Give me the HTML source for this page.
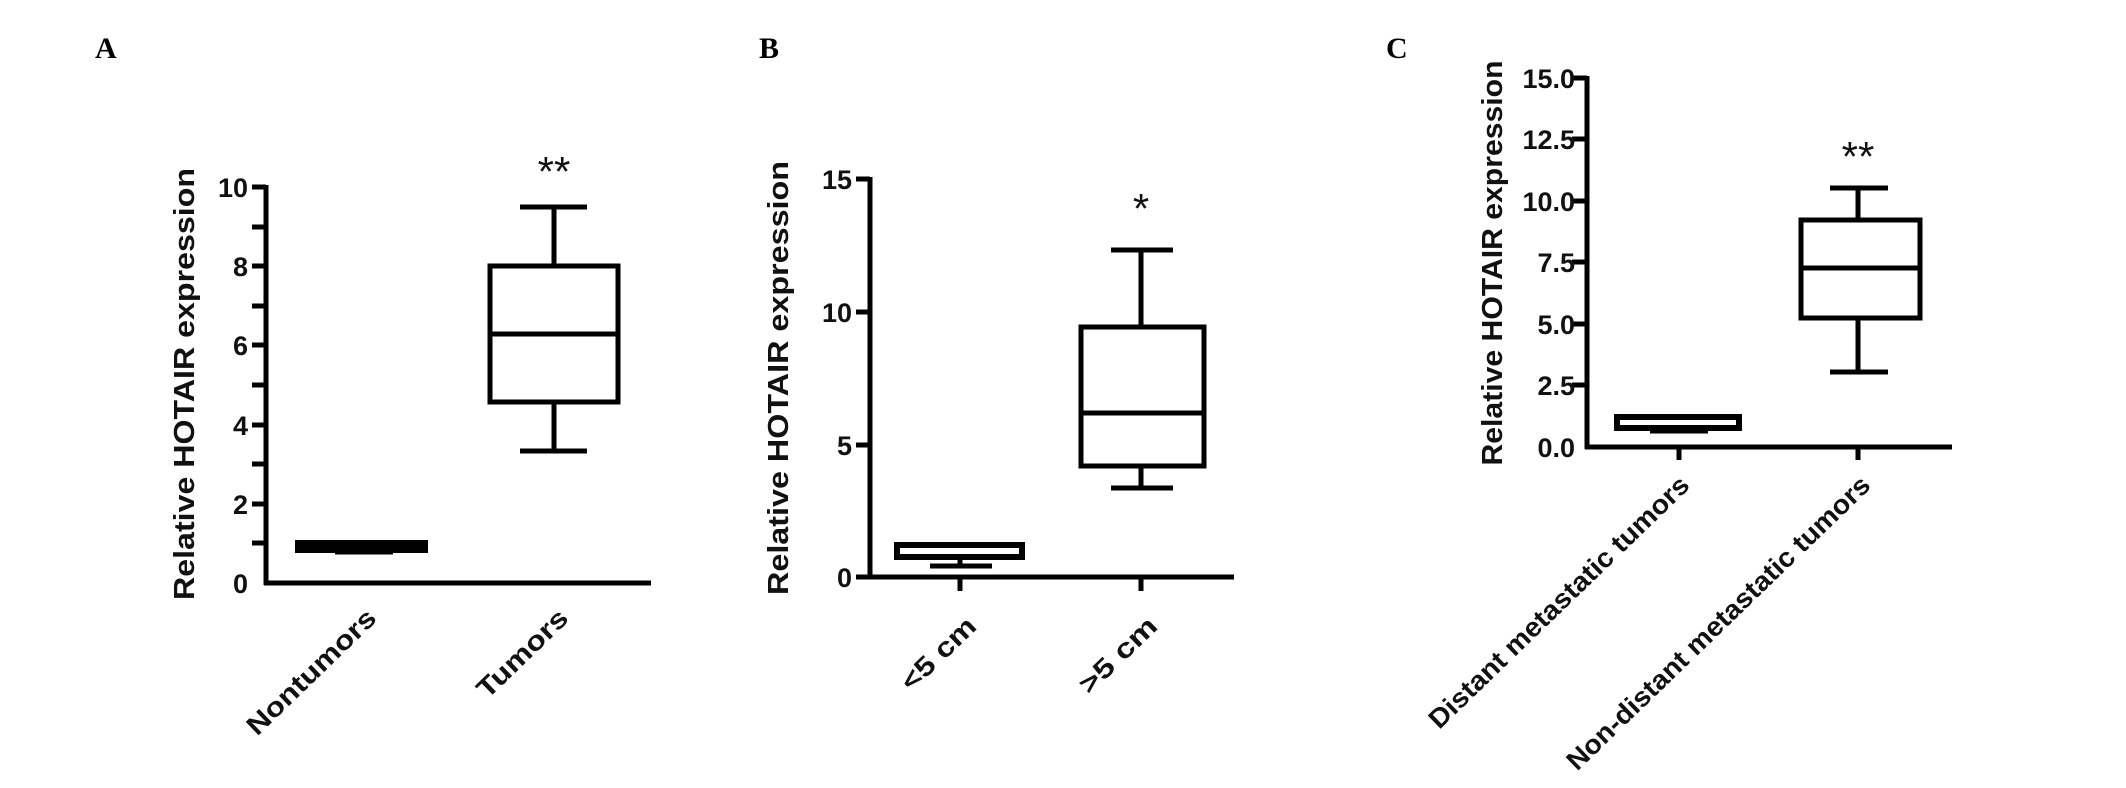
<!DOCTYPE html>
<html><head><meta charset="utf-8"><style>
html,body{margin:0;padding:0;background:#fff;}
svg{display:block;}
.t{font-family:"Liberation Sans",Arial,sans-serif;font-weight:bold;fill:#111;}
.L{font-family:"Liberation Serif","Times New Roman",serif;font-weight:bold;font-size:30px;fill:#000;}
</style></head><body>
<svg width="2126" height="788" viewBox="0 0 2126 788" xmlns="http://www.w3.org/2000/svg">
<g stroke="#000" stroke-width="5" fill="none" stroke-linecap="butt">
<line x1="266" y1="185" x2="266" y2="585"/>
<line x1="264" y1="583" x2="651" y2="583"/>
<line x1="252" y1="187" x2="266" y2="187"/>
<line x1="252" y1="227" x2="266" y2="227"/>
<line x1="252" y1="266" x2="266" y2="266"/>
<line x1="252" y1="306" x2="266" y2="306"/>
<line x1="252" y1="345" x2="266" y2="345"/>
<line x1="252" y1="385" x2="266" y2="385"/>
<line x1="252" y1="425" x2="266" y2="425"/>
<line x1="252" y1="464" x2="266" y2="464"/>
<line x1="252" y1="504" x2="266" y2="504"/>
<line x1="252" y1="543" x2="266" y2="543"/>
<rect x="298" y="543" width="127" height="7" stroke-width="6" fill="#000"/>
<line x1="335" y1="552" x2="393" y2="552"/>
<rect x="490" y="266" width="128" height="136"/>
<line x1="490" y1="334" x2="618" y2="334"/>
<line x1="554" y1="207" x2="554" y2="266"/>
<line x1="554" y1="402" x2="554" y2="451"/>
<line x1="520" y1="207" x2="587" y2="207"/>
<line x1="520" y1="451" x2="587" y2="451"/>

<line x1="870" y1="177" x2="870" y2="579"/>
<line x1="868" y1="577" x2="1234" y2="577"/>
<line x1="856" y1="179" x2="870" y2="179"/>
<line x1="856" y1="312" x2="870" y2="312"/>
<line x1="856" y1="445" x2="870" y2="445"/>
<line x1="856" y1="577" x2="870" y2="577"/>
<line x1="960" y1="577" x2="960" y2="591"/>
<line x1="1141" y1="577" x2="1141" y2="591"/>
<rect x="897" y="545" width="125" height="12" stroke-width="6"/>
<line x1="960" y1="557" x2="960" y2="566"/>
<line x1="930" y1="566" x2="992" y2="566"/>
<rect x="1081" y="327" width="123" height="139"/>
<line x1="1081" y1="413" x2="1204" y2="413"/>
<line x1="1141" y1="250" x2="1141" y2="327"/>
<line x1="1141" y1="466" x2="1141" y2="488"/>
<line x1="1111" y1="250" x2="1173" y2="250"/>
<line x1="1111" y1="488" x2="1173" y2="488"/>

<line x1="1587" y1="76" x2="1587" y2="449"/>
<line x1="1585" y1="447" x2="1952" y2="447"/>
<line x1="1572" y1="78" x2="1587" y2="78"/>
<line x1="1572" y1="139" x2="1587" y2="139"/>
<line x1="1572" y1="201" x2="1587" y2="201"/>
<line x1="1572" y1="262" x2="1587" y2="262"/>
<line x1="1572" y1="324" x2="1587" y2="324"/>
<line x1="1572" y1="385" x2="1587" y2="385"/>
<line x1="1679" y1="447" x2="1679" y2="460"/>
<line x1="1858" y1="447" x2="1858" y2="460"/>
<rect x="1617" y="417" width="122" height="11" stroke-width="6"/>
<line x1="1650" y1="431" x2="1708" y2="431"/>
<rect x="1801" y="220" width="119" height="98"/>
<line x1="1801" y1="268" x2="1920" y2="268"/>
<line x1="1858" y1="188" x2="1858" y2="220"/>
<line x1="1858" y1="318" x2="1858" y2="372"/>
<line x1="1830" y1="188" x2="1888" y2="188"/>
<line x1="1830" y1="372" x2="1888" y2="372"/>
</g>

<text class="L" x="95" y="58">A</text>
<text class="L" x="759" y="58">B</text>
<text class="L" x="1386" y="58">C</text>

<g class="t" font-size="27" text-anchor="end">
<text x="248" y="197">10</text>
<text x="248" y="276">8</text>
<text x="248" y="355">6</text>
<text x="248" y="435">4</text>
<text x="248" y="514">2</text>
<text x="248" y="593">0</text>
</g>
<text class="t" font-size="29" text-anchor="middle" textLength="432" lengthAdjust="spacingAndGlyphs" transform="translate(194,384) rotate(-90)">Relative HOTAIR expression</text>
<text class="t" font-size="42" text-anchor="middle" x="554" y="186" style="font-weight:normal">**</text>
<g class="t" font-size="27" text-anchor="end">
<text textLength="168" lengthAdjust="spacingAndGlyphs" transform="translate(378,620) rotate(-44)">Nontumors</text>
<text textLength="115" lengthAdjust="spacingAndGlyphs" transform="translate(570,620) rotate(-44)">Tumors</text>
</g>

<g class="t" font-size="27" text-anchor="end">
<text x="852" y="189">15</text>
<text x="852" y="322">10</text>
<text x="852" y="455">5</text>
<text x="852" y="587">0</text>
</g>
<text class="t" font-size="29" text-anchor="middle" textLength="434" lengthAdjust="spacingAndGlyphs" transform="translate(788,378) rotate(-90)">Relative HOTAIR expression</text>
<text class="t" font-size="42" text-anchor="middle" x="1141" y="223" style="font-weight:normal">*</text>
<g class="t" font-size="27" text-anchor="end">
<text textLength="93" lengthAdjust="spacingAndGlyphs" transform="translate(978,628) rotate(-44)">&lt;5 cm</text>
<text textLength="97" lengthAdjust="spacingAndGlyphs" transform="translate(1159,628) rotate(-44)">&gt;5 cm</text>
</g>

<g class="t" font-size="27" text-anchor="end">
<text x="1575" y="88">15.0</text>
<text x="1575" y="149">12.5</text>
<text x="1575" y="211">10.0</text>
<text x="1575" y="272">7.5</text>
<text x="1575" y="334">5.0</text>
<text x="1575" y="395">2.5</text>
<text x="1575" y="457">0.0</text>
</g>
<text class="t" font-size="29" text-anchor="middle" textLength="405" lengthAdjust="spacingAndGlyphs" transform="translate(1502,263) rotate(-90)">Relative HOTAIR expression</text>
<text class="t" font-size="42" text-anchor="middle" x="1858" y="171" style="font-weight:normal">**</text>
<g class="t" font-size="27" text-anchor="end">
<text textLength="350" lengthAdjust="spacingAndGlyphs" transform="translate(1691,487) rotate(-44)">Distant metastatic tumors</text>
<text textLength="410" lengthAdjust="spacingAndGlyphs" transform="translate(1872,487) rotate(-44)">Non-distant metastatic tumors</text>
</g>
</svg>
</body></html>
